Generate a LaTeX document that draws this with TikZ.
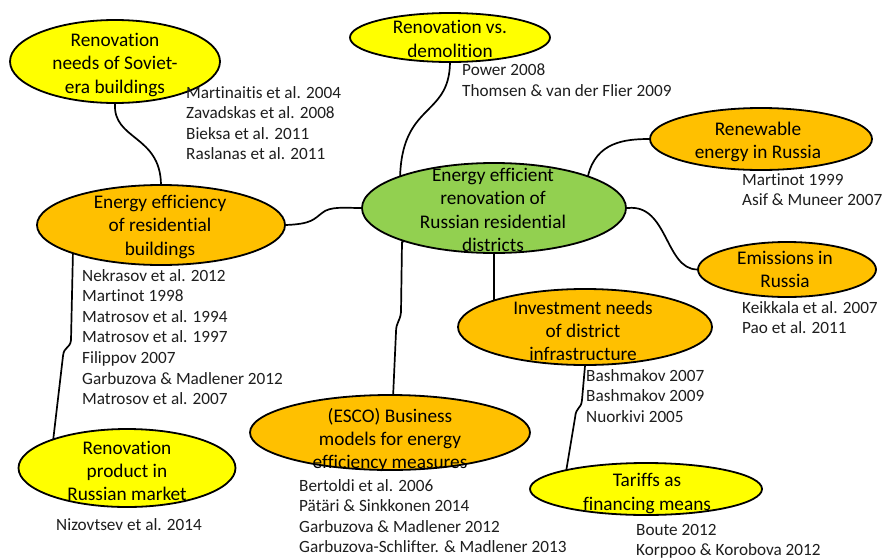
\documentclass[tikz,border=0pt]{standalone}
\usepackage{fontspec}
\setmainfont{Carlito}[Ligatures=NoCommon]
\usetikzlibrary{shapes.geometric,backgrounds}

\definecolor{topicyellow}{RGB}{255,255,0}
\definecolor{topicorange}{RGB}{255,192,0}
\definecolor{topicgreen}{RGB}{146,208,80}
\definecolor{reftext}{RGB}{30,30,30}

\tikzset{
  topic/.style={ellipse, draw=black, line width=1.8pt, inner sep=0pt},
  yel/.style={topic, fill=topicyellow},
  ora/.style={topic, fill=topicorange},
  grn/.style={topic, fill=topicgreen},
  topictext/.style={inner sep=0pt, align=center, text=black,
    font=\fontsize{19.3}{23.3}\selectfont},
  reflist/.style={anchor=north west, inner sep=0pt, align=left, text=reftext,
    font=\fontsize{17.2}{20.6}\selectfont},
  link/.style={draw=black, line width=1.7pt, line cap=round, line join=round},
}

\begin{document}
\begin{tikzpicture}[x=1pt, y=-1pt]
\useasboundingbox (0,0) rectangle (883,557);

% topic ellipses
\node[grn, minimum width=264, minimum height=90] (green) at (494,208) {};
\node[yel, minimum width=210, minimum height=83] (soviet) at (115,61.5) {};
\node[yel, minimum width=200, minimum height=49] (demol) at (450,37.5) {};
\node[ora, minimum width=248, minimum height=80] (energy) at (161,225) {};
\node[ora, minimum width=222, minimum height=62] (renew) at (761,139) {};
\node[ora, minimum width=178, minimum height=55] (emiss) at (787,269.5) {};
\node[ora, minimum width=254, minimum height=76] (invest) at (585,327) {};
\node[ora, minimum width=280, minimum height=75] (esco) at (390,432.5) {};
\node[yel, minimum width=217, minimum height=78] (product) at (127,468) {};
\node[yel, minimum width=232, minimum height=52] (tariff) at (646,489) {};

% topic captions
\node[topictext] (green-t) at (493,210)
  {Energy efficient\\renovation of\\Russian residential\\districts};
\node[topictext] (soviet-t) at (115,65)
  {Renovation\\needs of Soviet-\\era buildings};
\node[topictext] (demol-t) at (450,39)
  {Renovation vs.\\demolition};
\node[topictext] (energy-t) at (160,227)
  {Energy efficiency\\of residential\\buildings};
\node[topictext] (renew-t) at (758,142)
  {Renewable\\energy in Russia};
\node[topictext] (emiss-t) at (785,269.5)
  {Emissions in\\Russia};
\node[topictext] (invest-t) at (583,331)
  {Investment needs\\of district\\infrastructure};
\node[topictext] (esco-t) at (390,440)
  {(ESCO) Business\\models for energy\\efficiency measures};
\node[topictext] (product-t) at (127,471)
  {Renovation\\product in\\Russian market};
\node[topictext] (tariff-t) at (647,493.5)
  {Tariffs as\\financing means};

% reference lists
\node[reflist] (sovietrefs) at (186,86)
  {Martinaitis et al. 2004\\Zavadskas et al. 2008\\Bieksa et al. 2011\\Raslanas et al. 2011};
\node[reflist] (demolrefs) at (462,64)
  {Power 2008\\Thomsen \& van der Flier 2009};
\node[reflist] (renewrefs) at (742,173)
  {Martinot 1999\\Asif \& Muneer 2007};
\node[reflist] (energyrefs) at (82,269)
  {Nekrasov et al. 2012\\Martinot 1998\\Matrosov et al. 1994\\Matrosov et al. 1997\\Filippov 2007\\Garbuzova \& Madlener 2012\\Matrosov et al. 2007};
\node[reflist] (emissrefs) at (742,301)
  {Keikkala et al. 2007\\Pao et al. 2011};
\node[reflist] (investrefs) at (586,369)
  {Bashmakov 2007\\Bashmakov 2009\\Nuorkivi 2005};
\node[reflist] (escorefs) at (299,479)
  {Bertoldi et al. 2006\\Pätäri \& Sinkkonen 2014\\Garbuzova \& Madlener 2012\\Garbuzova-Schlifter. \& Madlener 2013};
\node[reflist] (productrefs) at (56,518)
  {Nizovtsev et al. 2014};
\node[reflist] (tariffrefs) at (636,524)
  {Boute 2012\\Korppoo \& Korobova 2012};

% page fill and connectors, drawn behind the ellipses
\begin{pgfonlayer}{background}
\fill[white] (0,0) rectangle (883,557);
\draw[link] (soviet.center) -- (soviet.south)
  .. controls (113,140) and (160,135) .. (energy.north) -- (energy.center);
\draw[link] (energy.center) -- (energy.east)
  .. controls (312,224) and (314,219) .. (322,213)
  .. controls (330,206) and (345,208) .. (green.west) -- (green.center);
\draw[link] (demol.center) -- (demol.south)
  .. controls (449,118) and (401,102) .. (400,180) -- (green.center);
\draw[link] (green.center) -- (588,176)
  .. controls (596,142) and (625,139) .. (renew.west) -- (renew.center);
\draw[link] (green.center) -- (628,208)
  .. controls (668,204) and (665,269) .. (emiss.west) -- (emiss.center);
\draw[link] (green.center) -- (green.south) -- (green.south |- invest.center);
\draw[link] (green.center) -- (402,242) -- (401,312)
  .. controls (400,322) and (396,322) .. (396,332) -- (392,420) -- (esco.center);
\draw[link] (energy.center) -- (73,250) -- (71,340)
  .. controls (70,349) and (64,346) .. (63,356) -- (52,450) -- (product.center);
\draw[link] (invest.center) -- (invest.south) -- (582,400)
  .. controls (581,410) and (576,406) .. (575,418) -- (565,478) -- (tariff.center);
\end{pgfonlayer}
\end{tikzpicture}
\end{document}
